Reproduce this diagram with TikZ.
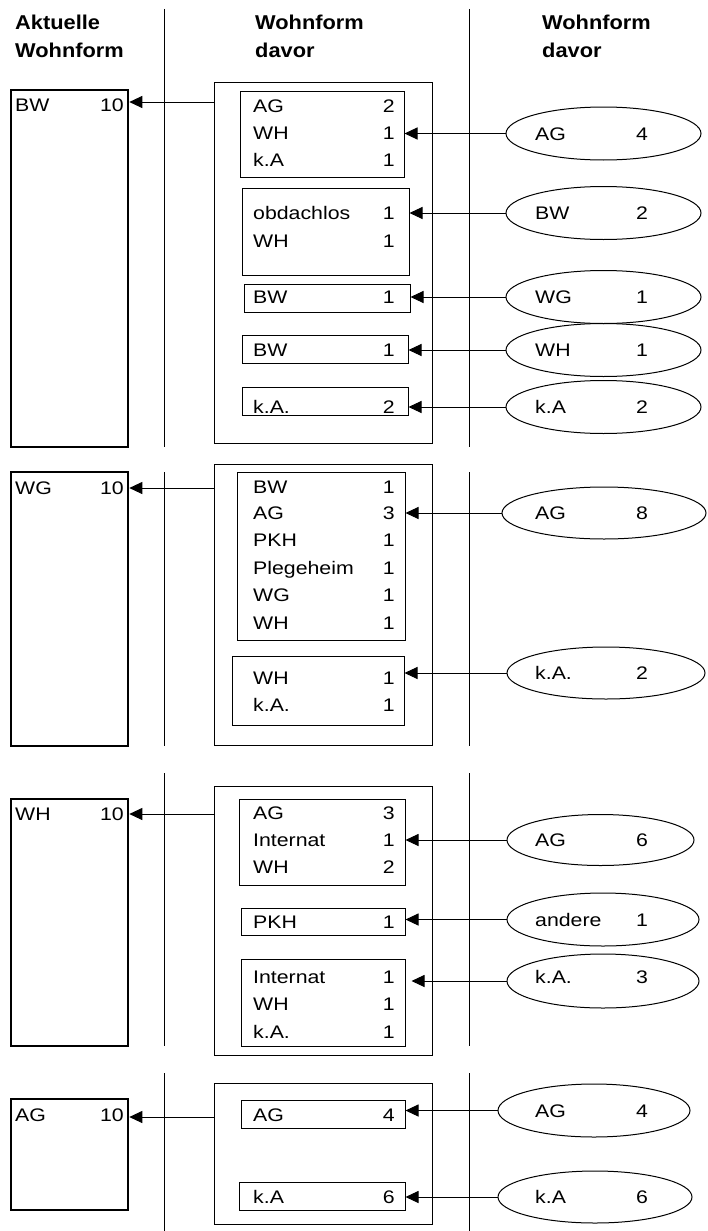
\documentclass[tikz,border=0pt]{standalone}
\usepackage{fontspec}
\setmainfont{Liberation Sans}[FakeStretch=1.17]
\newfontfamily\hdrfont{Liberation Sans}[FakeStretch=1.09]
\usetikzlibrary{arrows.meta,shapes.geometric}
\tikzset{
  frame/.style={draw, line width=1pt, inner sep=0pt},
  curbox/.style={draw, line width=2.6pt, inner sep=0pt},
  ell/.style={draw, ellipse, line width=1pt, inner sep=0pt},
  txt/.style={inner sep=0pt, anchor=base west},
  num/.style={inner sep=0pt, anchor=base east},
  hdr/.style={inner sep=0pt, anchor=base west, font=\hdrfont\bfseries\fontsize{20}{24}\selectfont},
  arr/.style={-{Triangle[length=13pt,width=12pt]}, line width=1pt},
  divider/.style={line width=1pt},
}
\newcommand\mkbox[6][frame]{\node[#1, minimum width={#5-#3}, minimum height={#6-#4}] (#2) at ({(#3+#5)/2},{(#4+#6)/2}) {};}
\newcommand\mkell[5]{\node[ell, minimum width={2*#4}, minimum height={2*#5}] (#1) at (#2,#3) {};}
\newcommand\lab[4]{\node[txt] (#1) at (#2,{#3+6.5}) {#4};}
\newcommand\val[4]{\node[num] (#1) at (#2,{#3+6.5}) {#4};}
\newcommand\row[4]{\lab{#1l}{253}{#2}{#3}\val{#1r}{395}{#2}{#4}}
\newcommand\erow[4]{\lab{#1l}{535}{#2}{#3}\node[inner sep=0pt, anchor=base] (#1r) at (642,{#2+6.5}) {#4};}
\begin{document}
\begin{tikzpicture}[x=1pt,y=-1pt]
\fontsize{18.2}{22}\selectfont
\useasboundingbox (0,0) rectangle (708,1231);
% headers
\node[hdr] (h1a) at (15,29.3) {Aktuelle};
\node[hdr] (h1b) at (15,58) {Wohnform};
\node[hdr] (h2a) at (255,29.3) {Wohnform};
\node[hdr] (h2b) at (255,58) {davor};
\node[hdr] (h3a) at (542,29.3) {Wohnform};
\node[hdr] (h3b) at (542,58) {davor};
% dividers
\foreach \ya/\yb in {9/447, 472/746, 773/1046, 1073/1231}{
  \draw[divider] (164,\ya) -- (164,\yb);
  \draw[divider] (469.5,\ya) -- (469.5,\yb);
}
% ================= section 1
\mkbox[curbox]{cur1}{11}{90}{128}{447}
\lab{c1l}{15}{104.5}{BW}\val{c1r}{124}{104.5}{10}
\mkbox{mid1}{214}{82}{432}{443}
\coordinate (s1) at (214,102);
\draw[arr] (s1) -- (s1 -| cur1.east);
\mkbox{b1a}{240}{91}{404}{177}
\row{r1a}{106}{AG}{2}\row{r1b}{133}{WH}{1}\row{r1c}{160}{k.A}{1}
\mkbox{b1b}{242}{188}{409}{275}
\row{r1d}{213}{obdachlos}{1}\row{r1e}{241}{WH}{1}
\mkbox{b1c}{244}{284}{410}{312}
\row{r1f}{297}{BW}{1}
\mkbox{b1d}{242}{335}{408}{363}
\row{r1g}{350}{BW}{1}
\mkbox{b1e}{242}{387}{408}{415}
\row{r1h}{407}{k.A.}{2}
\mkell{e1a}{603.5}{133.5}{97.5}{26.5}\erow{q1a}{133.5}{AG}{4}
\mkell{e1b}{603.5}{213}{97.5}{26.5}\erow{q1b}{213}{BW}{2}
\mkell{e1c}{603.5}{297}{97.5}{26.5}\erow{q1c}{297}{WG}{1}
\mkell{e1d}{603.5}{350}{97.5}{26.5}\erow{q1d}{350}{WH}{1}
\mkell{e1e}{603.5}{407}{97.5}{26.5}\erow{q1e}{407}{k.A}{2}
\draw[arr] (e1a.west) -- (e1a.west -| b1a.east);
\draw[arr] (e1b.west) -- (e1b.west -| b1b.east);
\draw[arr] (e1c.west) -- (e1c.west -| b1c.east);
\draw[arr] (e1d.west) -- (e1d.west -| b1d.east);
\draw[arr] (e1e.west) -- (e1e.west -| b1e.east);
% ================= section 2
\mkbox[curbox]{cur2}{11}{472}{128}{746}
\lab{c2l}{15}{488}{WG}\val{c2r}{124}{488}{10}
\mkbox{mid2}{214}{464}{432}{745}
\coordinate (s2) at (214,488);
\draw[arr] (s2) -- (s2 -| cur2.east);
\mkbox{b2a}{237}{472}{405}{640}
\row{r2a}{487}{BW}{1}\row{r2b}{513}{AG}{3}\row{r2c}{540}{PKH}{1}
\row{r2d}{568}{Plegeheim}{1}\row{r2e}{595}{WG}{1}\row{r2f}{623}{WH}{1}
\mkbox{b2b}{232}{656}{404}{725}
\row{r2g}{678}{WH}{1}\row{r2h}{705}{k.A.}{1}
\mkell{e2a}{604}{513}{102}{26}\erow{q2a}{513}{AG}{8}
\mkell{e2b}{606}{673}{99}{26}\erow{q2b}{673}{k.A.}{2}
\draw[arr] (e2a.west) -- (e2a.west -| b2a.east);
\draw[arr] (e2b.west) -- (e2b.west -| b2b.east);
% ================= section 3
\mkbox[curbox]{cur3}{11}{799}{128}{1046}
\lab{c3l}{15}{814}{WH}\val{c3r}{124}{814}{10}
\mkbox{mid3}{214}{786}{432}{1055}
\coordinate (s3) at (214,814);
\draw[arr] (s3) -- (s3 -| cur3.east);
\mkbox{b3a}{239}{799}{405}{885}
\row{r3a}{813}{AG}{3}\row{r3b}{840}{Internat}{1}\row{r3c}{867}{WH}{2}
\mkbox{b3b}{241}{908}{405}{935}
\row{r3d}{922}{PKH}{1}
\mkbox{b3c}{241}{959}{405}{1046}
\row{r3e}{977}{Internat}{1}\row{r3f}{1004}{WH}{1}\row{r3g}{1032}{k.A.}{1}
\mkell{e3a}{600.5}{840}{93.5}{25.5}\erow{q3a}{840}{AG}{6}
\mkell{e3b}{603}{919.5}{96}{26.5}\erow{q3b}{919.5}{andere}{1}
\mkell{e3c}{603}{981}{96}{27}\erow{q3c}{977}{k.A.}{3}
\draw[arr] (e3a.west) -- (e3a.west -| b3a.east);
\draw[arr] (e3b.west) -- (e3b.west -| b3b.east);
\draw[arr, shorten >=6pt] (e3c.west) -- (e3c.west -| b3c.east);
% ================= section 4
\mkbox[curbox]{cur4}{11}{1099}{128}{1210}
\lab{c4l}{15}{1115}{AG}\val{c4r}{124}{1115}{10}
\mkbox{mid4}{214}{1083}{432}{1224}
\coordinate (s4) at (214,1117);
\draw[arr] (s4) -- (s4 -| cur4.east);
\mkbox{b4a}{241}{1100}{405}{1128}
\row{r4a}{1115}{AG}{4}
\mkbox{b4b}{239}{1182}{405}{1210}
\row{r4b}{1197}{k.A}{6}
\mkell{e4a}{594}{1110.5}{96}{26.5}\erow{q4a}{1110.5}{AG}{4}
\mkell{e4b}{595}{1197}{97}{26}\erow{q4b}{1197}{k.A}{6}
\draw[arr] (e4a.west) -- (e4a.west -| b4a.east);
\draw[arr] (e4b.west) -- (e4b.west -| b4b.east);
\end{tikzpicture}
\end{document}
